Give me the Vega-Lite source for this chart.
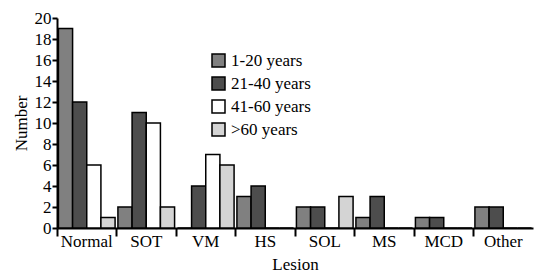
{
  "$schema": "https://vega.github.io/schema/vega-lite/v6.json",
  "autosize": {"type": "none"},
  "width": 476,
  "height": 210,
  "padding": {"left": 57, "top": 18, "right": 9, "bottom": 47},
  "background": "white",
  "config": {
    "view": {"stroke": null},
    "font": "Times New Roman, Liberation Serif, serif",
    "axis": {"labelFont": "Times New Roman, Liberation Serif, serif", "titleFont": "Times New Roman, Liberation Serif, serif", "labelColor": "black", "titleColor": "black", "domainColor": "black", "tickColor": "black", "titleFontWeight": "normal"},
    "legend": {"labelFont": "Times New Roman, Liberation Serif, serif"}
  },
  "data": {
    "values": [
      {"lesion": "Normal", "age": "1-20 years", "n": 19},
      {"lesion": "Normal", "age": "21-40 years", "n": 12},
      {"lesion": "Normal", "age": "41-60 years", "n": 6},
      {"lesion": "Normal", "age": ">60 years", "n": 1},
      {"lesion": "SOT", "age": "1-20 years", "n": 2},
      {"lesion": "SOT", "age": "21-40 years", "n": 11},
      {"lesion": "SOT", "age": "41-60 years", "n": 10},
      {"lesion": "SOT", "age": ">60 years", "n": 2},
      {"lesion": "VM", "age": "1-20 years", "n": 0},
      {"lesion": "VM", "age": "21-40 years", "n": 4},
      {"lesion": "VM", "age": "41-60 years", "n": 7},
      {"lesion": "VM", "age": ">60 years", "n": 6},
      {"lesion": "HS", "age": "1-20 years", "n": 3},
      {"lesion": "HS", "age": "21-40 years", "n": 4},
      {"lesion": "HS", "age": "41-60 years", "n": 0},
      {"lesion": "HS", "age": ">60 years", "n": 0},
      {"lesion": "SOL", "age": "1-20 years", "n": 2},
      {"lesion": "SOL", "age": "21-40 years", "n": 2},
      {"lesion": "SOL", "age": "41-60 years", "n": 0},
      {"lesion": "SOL", "age": ">60 years", "n": 3},
      {"lesion": "MS", "age": "1-20 years", "n": 1},
      {"lesion": "MS", "age": "21-40 years", "n": 3},
      {"lesion": "MS", "age": "41-60 years", "n": 0},
      {"lesion": "MS", "age": ">60 years", "n": 0},
      {"lesion": "MCD", "age": "1-20 years", "n": 1},
      {"lesion": "MCD", "age": "21-40 years", "n": 1},
      {"lesion": "MCD", "age": "41-60 years", "n": 0},
      {"lesion": "MCD", "age": ">60 years", "n": 0},
      {"lesion": "Other", "age": "1-20 years", "n": 2},
      {"lesion": "Other", "age": "21-40 years", "n": 2},
      {"lesion": "Other", "age": "41-60 years", "n": 0},
      {"lesion": "Other", "age": ">60 years", "n": 0}
    ]
  },
  "layer": [
    {
      "mark": {"type": "bar", "stroke": "black", "strokeWidth": 1.5},
      "encoding": {
        "x": {
          "field": "lesion", "type": "nominal",
          "sort": ["Normal", "SOT", "VM", "HS", "SOL", "MS", "MCD", "Other"],
          "scale": {"paddingInner": 0, "paddingOuter": 0},
          "axis": {"orient": "bottom", "title": "Lesion", "titleFontSize": 17, "titlePadding": 7, "labelFontSize": 17, "labelAngle": 0, "ticks": false, "labelPadding": 5, "domainWidth": 2}
        },
        "xOffset": {
          "field": "age", "type": "nominal",
          "sort": ["1-20 years", "21-40 years", "41-60 years", ">60 years"],
          "scale": {"paddingInner": 0, "paddingOuter": 0.1}
        },
        "y": {
          "field": "n", "type": "quantitative",
          "scale": {"domain": [0, 20]},
          "axis": {"title": "Number", "titleFontSize": 17, "titlePadding": 4, "labelFontSize": 17, "labelOverlap": false, "values": [0,2,4,6,8,10,12,14,16,18,20], "grid": false, "tickSize": 5, "tickWidth": 2, "domainWidth": 2, "labelPadding": 1}
        },
        "color": {
          "field": "age", "type": "nominal",
          "sort": ["1-20 years", "21-40 years", "41-60 years", ">60 years"],
          "scale": {"domain": ["1-20 years", "21-40 years", "41-60 years", ">60 years"], "range": ["#808080", "#4d4d4d", "#ffffff", "#d4d4d4"]},
          "legend": {
            "title": null, "orient": "none", "legendX": 153, "legendY": 34,
            "symbolType": "square", "symbolSize": 169, "labelFontSize": 17, "labelColor": "black",
            "rowPadding": 4, "labelOffset": 4, "symbolOpacity": 1,
            "encode": {"symbols": {"update": {"stroke": {"value": "black"}, "strokeWidth": {"value": 2}}}}
          }
        }
      }
    },
    {
      "mark": {"type": "tick", "opacity": 0},
      "encoding": {
        "x": {
          "field": "lesion", "type": "nominal",
          "sort": ["Normal", "SOT", "VM", "HS", "SOL", "MS", "MCD", "Other"],
          "axis": {"orient": "bottom", "title": null, "labels": false, "bandPosition": 0, "ticks": true, "tickSize": 8, "tickWidth": 2, "domain": false}
        }
      }
    }
  ],
  "resolve": {"axis": {"x": "independent"}}
}
